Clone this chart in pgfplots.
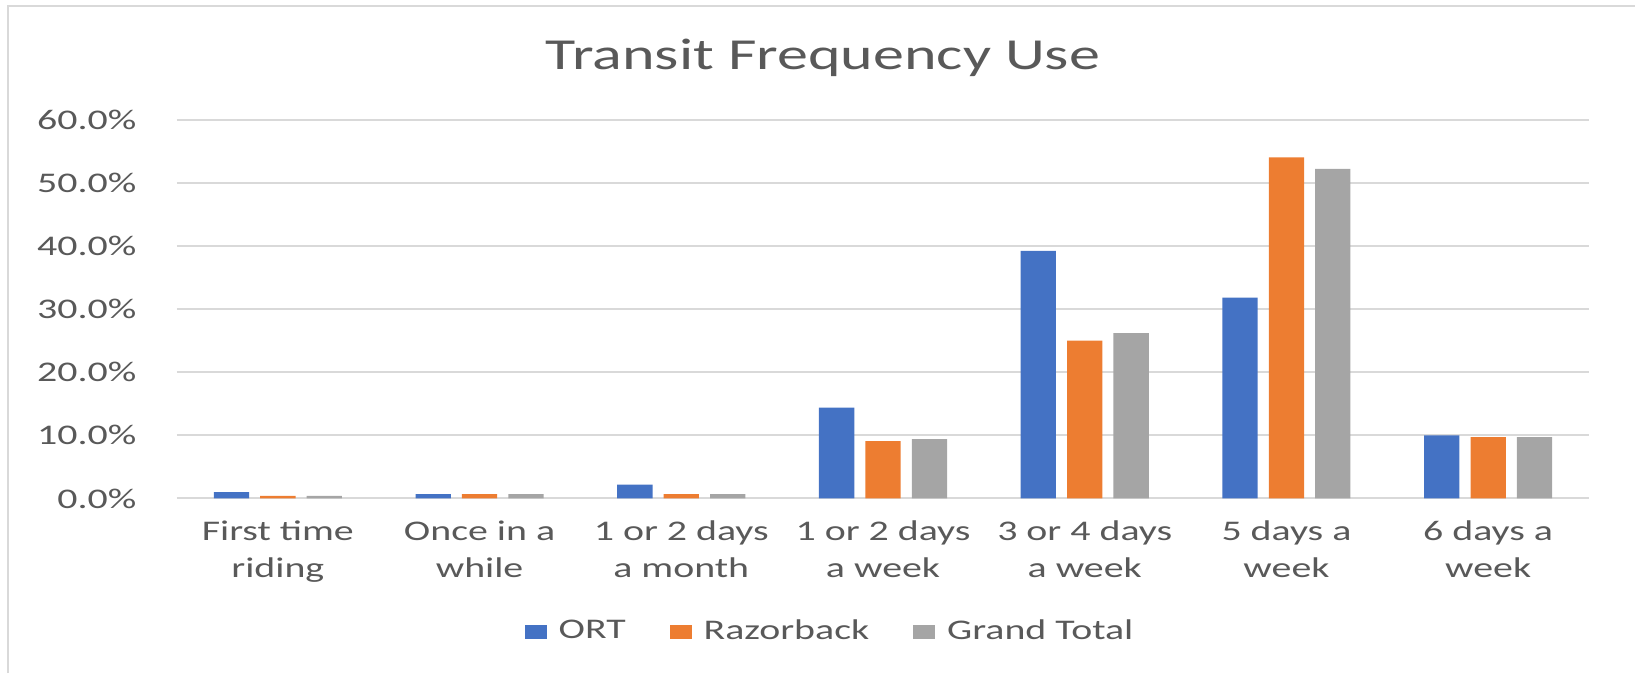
\documentclass[border=0pt]{standalone}
\usepackage{fontspec}
\setmainfont{Carlito}[FakeStretch=1.4]
\usepackage{pgfplots}
\pgfplotsset{compat=1.18}
\definecolor{cblue}{HTML}{4472C4}
\definecolor{corange}{HTML}{ED7D31}
\definecolor{cgray}{HTML}{A5A5A5}
\definecolor{cgrid}{HTML}{D9D9D9}
\definecolor{ctext}{HTML}{595959}
\pgfplotsset{
  sqlegend/.style={legend image code/.code={\fill[##1] (0mm,-0.7mm) rectangle (2.2mm,0.7mm);}}
}
\begin{document}
\begin{tikzpicture}
\useasboundingbox (-17.7mm,-17.45mm) rectangle (145.8mm,49.85mm);
\draw[cgrid, line width=0.22mm] (-16.9mm,-17.45mm) -- (-16.9mm,49.28mm) -- (145.8mm,49.28mm);
\begin{axis}[
  at={(0,0)}, anchor=south west,
  scale only axis, width=141.2mm, height=37.9mm,
  ybar=1.11mm, bar width=3.53mm,
  xmin=-0.5, xmax=6.5, ymin=0, ymax=60,
  xtick={0,1,2,3,4,5,6},
  xticklabels={{First time\\riding},{Once in a\\while},{1 or 2 days\\a month},{1 or 2 days\\a week},{3 or 4 days\\a week},{5 days a\\week},{6 days a\\week}},
  ytick={0,10,20,30,40,50,60},
  yticklabel={\pgfmathprintnumber[fixed,fixed zerofill,precision=1]{\tick}\%},
  /pgf/number format/assume math mode=true,
  ymajorgrids, major grid style={cgrid, line width=0.2mm},
  axis x line*=bottom, axis y line*=left,
  x axis line style={cgrid, line width=0.2mm},
  y axis line style={draw=none},
  tick style={draw=none},
  xticklabel style={font=\fontsize{8.1}{10.5}\selectfont, text=ctext, align=center, anchor=base, inner sep=0pt, yshift=-6.4mm},
  yticklabel style={font=\fontsize{8.1}{9.8}\selectfont, text=ctext, anchor=east, inner sep=0pt, xshift=-4.0mm},
  title={Transit Frequency Use},
  title style={font=\fontsize{12.6}{15}\selectfont, text=ctext, at={(axis description cs:0.4575,1.0752)}, anchor=base, inner sep=0pt},
  sqlegend,
  legend columns=3,
  legend style={draw=none, fill=none, inner sep=0pt, at={(axis description cs:0.2457,-0.352)}, anchor=west,
    font=\fontsize{8.1}{9.8}\selectfont, text=ctext,
    nodes={inner sep=0pt},
    /tikz/every odd column/.append style={column sep=1.2mm},
    /tikz/every even column/.append style={column sep=4.4mm}},
]
\addplot[fill=cblue, draw=none] coordinates {(0,1.0) (1,0.7) (2,2.2) (3,14.4) (4,39.2) (5,31.8) (6,10.0)};
\addplot[fill=corange, draw=none] coordinates {(0,0.4) (1,0.7) (2,0.7) (3,9.1) (4,25.0) (5,54.0) (6,9.7)};
\addplot[fill=cgray, draw=none] coordinates {(0,0.4) (1,0.7) (2,0.7) (3,9.4) (4,26.2) (5,52.2) (6,9.7)};
\legend{ORT, Razorback, Grand Total}
\end{axis}
\end{tikzpicture}
\end{document}
